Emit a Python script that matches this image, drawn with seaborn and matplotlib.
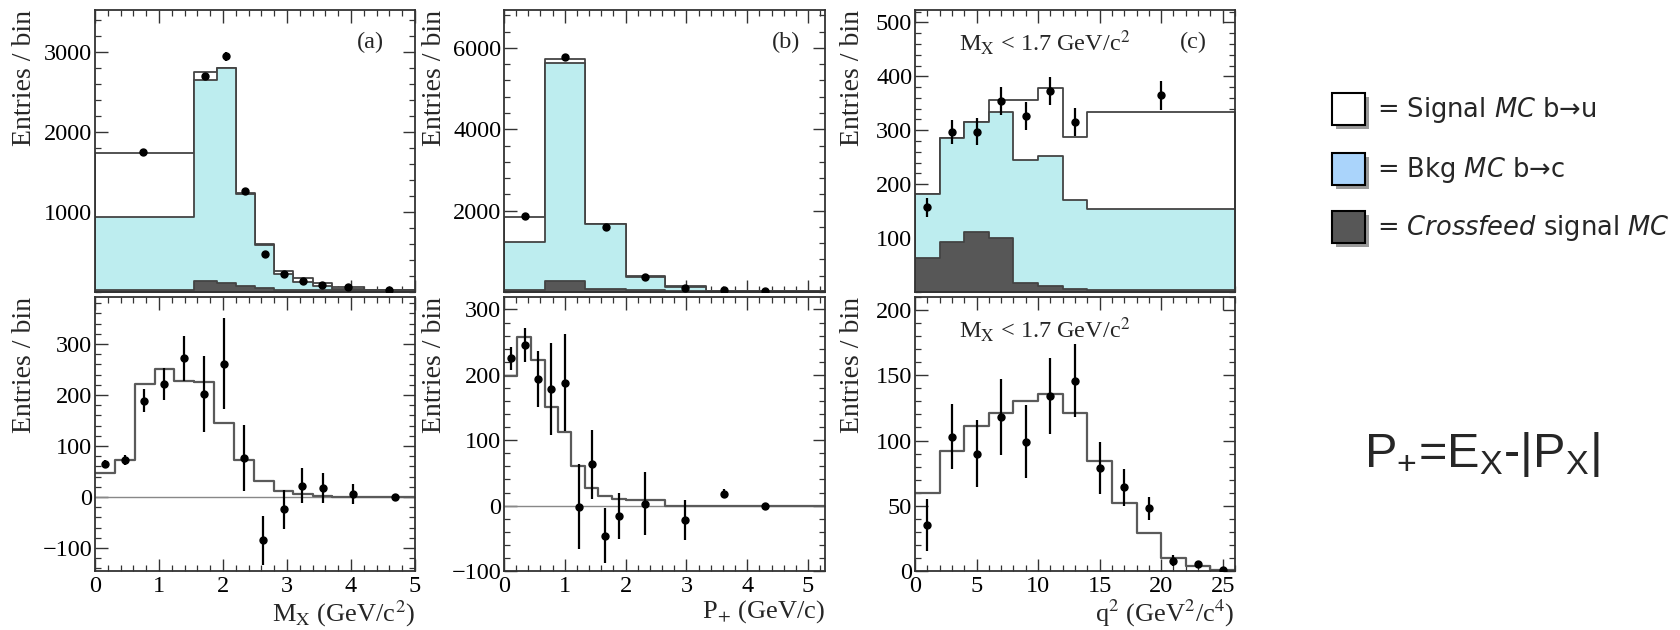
"""
Recreation of the B -> X_u l nu M_X / P_+ / q^2 unfolding figure.
"""

import matplotlib
matplotlib.use("Agg")
import matplotlib.pyplot as plt
from matplotlib.patches import Rectangle
from matplotlib.ticker import MultipleLocator
import numpy as np
import pandas as pd
import seaborn as sns

# ---------------------------------------------------------------- data
# panel (a) top: M_X, stacked MC + data
a_top_edges = [0, 1.55, 1.9, 2.2, 2.5, 2.8, 3.1, 3.4, 3.7, 4.2, 5.0]
a_top_total = [1740, 2760, 2810, 1240, 600, 260, 170, 110, 60, 30]
a_top_bkg = [940, 2650, 2800, 1230, 590, 230, 130, 70, 40, 20]
a_top_cross = [25, 140, 108, 75, 46, 30, 25, 20, 20, 20]
a_top_x = [0.75, 1.72, 2.05, 2.35, 2.65, 2.95, 3.25, 3.55, 3.95, 4.6]
a_top_y = [1750, 2700, 2950, 1260, 470, 225, 140, 90, 60, 20]
a_top_err = [25, 40, 55, 30, 20, 15, 12, 10, 8, 6]

# panel (a) bottom
a_bot_edges = [0, 0.31, 0.62, 0.93, 1.24, 1.55, 1.86, 2.17, 2.48, 2.79, 3.1, 3.4, 3.7, 4.35, 5.0]
a_bot_mc = [48, 73, 222, 250, 228, 225, 145, 73, 31, 11, 5, 2, 0, 0]
a_bot_x = [0.16, 0.47, 0.77, 1.08, 1.39, 1.71, 2.02, 2.33, 2.63, 2.95, 3.24, 3.56, 4.03, 4.68]
a_bot_y = [65, 72, 189, 221, 272, 202, 261, 76, -85, -24, 22, 18, 6, 1]
a_bot_err = [8, 10, 23, 31, 44, 74, 89, 65, 48, 38, 34, 29, 20, 4]

# panel (b) top: P+
b_top_edges = [0, 0.67, 1.33, 2.0, 2.65, 3.32, 3.95, 5.28]
b_top_total = [1846, 5723, 1683, 383, 139, 35, 25]
b_top_bkg = [1236, 5626, 1683, 375, 120, 25, 15]
b_top_cross = [60, 276, 80, 40, 25, 15, 10]
b_top_x = [0.35, 1.0, 1.67, 2.32, 2.97, 3.62, 4.3]
b_top_y = [1871, 5773, 1602, 359, 98, 41, 17]
b_top_err = [40, 70, 40, 20, 12, 8, 5]

# panel (b) bottom
b_bot_edges = [0, 0.22, 0.45, 0.67, 0.89, 1.1, 1.33, 1.55, 1.77, 2.0, 2.65, 3.32, 3.95, 5.28]
b_bot_mc = [198, 258, 222, 151, 112, 60, 27, 14, 10, 8, 0, 0, 0]
b_bot_x = [0.11, 0.34, 0.56, 0.78, 1.0, 1.23, 1.45, 1.66, 1.89, 2.32, 2.98, 3.62, 4.3]
b_bot_y = [225, 246, 194, 178, 188, -2, 63, -46, -16, 3, -22, 18, 0]
b_bot_err = [18, 26, 43, 70, 74, 65, 53, 42, 35, 48, 30, 7, 3]

# panel (c) top: q^2 with M_X < 1.7
c_top_edges = [0, 2, 4, 6, 8, 10, 12, 14, 26]
c_top_total = [182, 285, 315, 357, 357, 378, 288, 334]
c_top_bkg = [182, 285, 315, 334, 244, 252, 171, 154]
c_top_cross = [63, 92, 112, 101, 17, 12, 5, 3]
c_top_x = [1, 3, 5, 7, 9, 11, 13, 20]
c_top_y = [157, 297, 297, 354, 327, 373, 315, 365]
c_top_err = [18, 22, 25, 26, 26, 26, 26, 27]

# panel (c) bottom
c_bot_edges = [0, 2, 4, 6, 8, 10, 12, 14, 16, 18, 20, 22, 24, 26]
c_bot_mc = [60, 92, 111, 121, 130, 136, 121, 84, 52, 29, 10, 4, 1]
c_bot_x = [1, 3, 5, 7, 9, 11, 13, 15, 17, 19, 21, 23, 25]
c_bot_y = [35, 103, 90, 118, 99, 134, 146, 79, 64, 48, 8, 5, 1]
c_bot_err = [20, 25, 26, 29, 28, 29, 28, 20, 14, 9, 4, 3, 2]

legend_labels = [
    r"= Signal $\mathit{MC}$ b→u",
    r"= Bkg $\mathit{MC}$ b→c",
    r"= $\mathit{Crossfeed}$ signal $\mathit{MC}$",
]
formula = r"P$_{+}$=E$_{\mathrm{X}}$-|P$_{\mathrm{X}}$|"

# ---------------------------------------------------------------- style
CYAN = "#bdedef"
DARK = "#575757"
LEG_BLUE = "#aad4fb"
LINE = "#444444"
SERIF = ["Liberation Serif", "DejaVu Serif"]
W, H = 1681, 630

sns.set_theme(style="ticks")
plt.rcParams["font.family"] = SERIF
plt.rcParams["mathtext.fontset"] = "stix"
# sans maths for the formula on the right
plt.rcParams["mathtext.rm"] = "Liberation Sans"
plt.rcParams["mathtext.it"] = "Liberation Sans:italic"
plt.rcParams["mathtext.bf"] = "Liberation Sans:bold"

fig = plt.figure(figsize=(W / 100, H / 100), dpi=100)


def px_axes(x0, y0, x1, y1):
    """Axes from a pixel box (origin top-left)."""
    return fig.add_axes([x0 / W, 1 - y1 / H, (x1 - x0) / W, (y1 - y0) / H])


def style_axes(ax, xmaj, xmin, yticks, ymin_step, show_x):
    ax.xaxis.set_major_locator(MultipleLocator(xmaj))
    ax.xaxis.set_minor_locator(MultipleLocator(xmin))
    ax.set_yticks(yticks)
    ax.yaxis.set_minor_locator(MultipleLocator(ymin_step))
    ax.tick_params(which="both", direction="in", top=True, right=True,
                   color="#333333", labelcolor="black", labelsize=17.5)
    ax.tick_params(which="major", length=9, width=1)
    ax.tick_params(which="minor", length=4.5, width=0.9)
    ax.tick_params(axis="y", pad=2)
    ax.tick_params(axis="x", pad=3.5, labelbottom=show_x)
    for s in ax.spines.values():
        s.set_linewidth(1.3)
        s.set_color("#333333")
        s.set_visible(True)


def hist_frame(edges, vals):
    edges = np.asarray(edges, dtype=float)
    return pd.DataFrame({"center": (edges[:-1] + edges[1:]) / 2,
                         "value": np.asarray(vals, dtype=float)})


def draw_stack(ax, edges, total, bkg, cross):
    for vals, face in ((total, "white"), (bkg, CYAN), (cross, DARK)):
        sns.histplot(data=hist_frame(edges, vals), x="center", weights="value",
                     bins=list(edges), element="step", fill=True,
                     facecolor=face, edgecolor=LINE, linewidth=1.3,
                     alpha=1, ax=ax)


def draw_mc_line(ax, edges, vals):
    sns.histplot(data=hist_frame(edges, vals), x="center", weights="value",
                 bins=list(edges), element="step", fill=False,
                 color="#5a5a5a", linewidth=1.6, ax=ax)


def draw_data(ax, x, y, err):
    ax.errorbar(x, y, yerr=err, fmt="o", color="black", ms=5,
                elinewidth=1.6, capsize=0, zorder=5)


def set_labels(ax, xlabel, ylab_x, xlab_y):
    ax.set_ylabel("Entries / bin", loc="top", fontsize=20)
    ax.yaxis.set_label_coords(ylab_x, 1.0)
    if xlabel:
        ax.set_xlabel(xlabel, loc="right", fontsize=19)
        ax.xaxis.set_label_coords(1.0, xlab_y)
    else:
        ax.set_xlabel("")


panels = [
    # x0, x1, xlim, xmaj, xmin, ylabel offset
    (95, 415, 5.0, 1, 0.2, -0.18),
    (504, 825, 5.28, 1, 0.2, -0.178),
    (915, 1235, 26.0, 5, 1, -0.156),
]
TOP = (10, 292)
BOT = (297, 571)
XLAB_Y = -0.1

# (a)
x0, x1, xr, xmaj, xmin, ylx = panels[0]
ax = px_axes(x0, TOP[0], x1, TOP[1])
draw_stack(ax, a_top_edges, a_top_total, a_top_bkg, a_top_cross)
draw_data(ax, a_top_x, a_top_y, a_top_err)
ax.set_xlim(0, xr)
ax.set_ylim(0, 3530)
style_axes(ax, xmaj, xmin, [1000, 2000, 3000], 200, False)
set_labels(ax, None, ylx, 0)
ax.text(0.86, 0.885, "(a)", transform=ax.transAxes, ha="center", va="center", fontsize=17.5)

ax = px_axes(x0, BOT[0], x1, BOT[1])
ax.axhline(0, color="#888888", lw=1)
draw_mc_line(ax, a_bot_edges, a_bot_mc)
draw_data(ax, a_bot_x, a_bot_y, a_bot_err)
ax.set_xlim(0, xr)
ax.set_ylim(-145, 392)
style_axes(ax, xmaj, xmin, [-100, 0, 100, 200, 300], 20, True)
set_labels(ax, r"M$_{\mathrm{X}}$ (GeV/c$^2$)", ylx, XLAB_Y)

# (b)
x0, x1, xr, xmaj, xmin, ylx = panels[1]
ax = px_axes(x0, TOP[0], x1, TOP[1])
draw_stack(ax, b_top_edges, b_top_total, b_top_bkg, b_top_cross)
draw_data(ax, b_top_x, b_top_y, b_top_err)
ax.set_xlim(0, xr)
ax.set_ylim(0, 6930)
style_axes(ax, xmaj, xmin, [2000, 4000, 6000], 400, False)
set_labels(ax, None, ylx, 0)
ax.text(0.88, 0.885, "(b)", transform=ax.transAxes, ha="center", va="center", fontsize=17.5)

ax = px_axes(x0, BOT[0], x1, BOT[1])
ax.axhline(0, color="#888888", lw=1)
draw_mc_line(ax, b_bot_edges, b_bot_mc)
draw_data(ax, b_bot_x, b_bot_y, b_bot_err)
ax.set_xlim(0, xr)
ax.set_ylim(-100, 319)
style_axes(ax, xmaj, xmin, [-100, 0, 100, 200, 300], 20, True)
set_labels(ax, r"P$_{+}$ (GeV/c)", ylx, XLAB_Y)

# (c)
x0, x1, xr, xmaj, xmin, ylx = panels[2]
ax = px_axes(x0, TOP[0], x1, TOP[1])
draw_stack(ax, c_top_edges, c_top_total, c_top_bkg, c_top_cross)
draw_data(ax, c_top_x, c_top_y, c_top_err)
ax.set_xlim(0, xr)
ax.set_ylim(0, 523)
style_axes(ax, xmaj, xmin, [100, 200, 300, 400, 500], 20, False)
set_labels(ax, None, ylx, 0)
ax.text(0.405, 0.885, r"M$_{\mathrm{X}}$ < 1.7 GeV/c$^2$", transform=ax.transAxes,
        ha="center", va="center", fontsize=17.5)
ax.text(0.87, 0.885, "(c)", transform=ax.transAxes, ha="center", va="center", fontsize=17.5)

ax = px_axes(x0, BOT[0], x1, BOT[1])
draw_mc_line(ax, c_bot_edges, c_bot_mc)
draw_data(ax, c_bot_x, c_bot_y, c_bot_err)
ax.set_xlim(0, xr)
ax.set_ylim(0, 210)
style_axes(ax, xmaj, xmin, [0, 50, 100, 150, 200], 10, True)
set_labels(ax, r"q$^2$ (GeV$^2$/c$^4$)", ylx, XLAB_Y)
ax.text(0.405, 0.88, r"M$_{\mathrm{X}}$ < 1.7 GeV/c$^2$", transform=ax.transAxes,
        ha="center", va="center", fontsize=17.5)

# ---------------------------------------------------------------- legend + formula
lax = fig.add_axes([0, 0, 1, 1])
lax.set_xlim(0, W)
lax.set_ylim(H, 0)
lax.axis("off")
box_faces = ["white", LEG_BLUE, DARK]
row_y = [93, 153, 211]
for top, face, label in zip(row_y, box_faces, legend_labels):
    lax.add_patch(Rectangle((1336, top + 4), 33, 32, facecolor="#9a9a9a", edgecolor="none"))
    lax.add_patch(Rectangle((1332, top), 33, 32, facecolor=face, edgecolor="black", lw=1.5))
    lax.text(1377, top + 17, label, ha="left", va="center", fontsize=18.5,
             family=["DejaVu Sans"], math_fontfamily="dejavusans")

lax.text(1364, 467, formula, ha="left", va="baseline", fontsize=35,
         family=["Liberation Sans", "DejaVu Sans"], math_fontfamily="custom")

fig.savefig("out.png", dpi=100)
